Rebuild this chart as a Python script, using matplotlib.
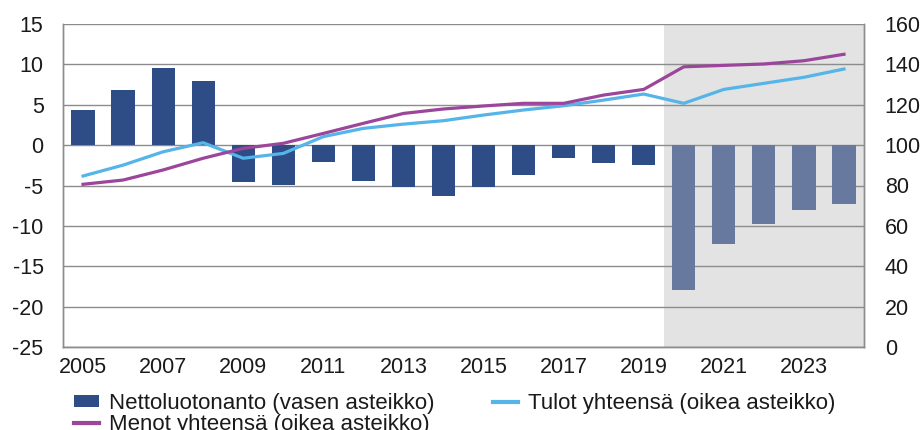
import matplotlib
matplotlib.use("Agg")
import matplotlib.pyplot as plt
import numpy as np
from matplotlib.patches import Patch
from matplotlib.lines import Line2D

years = list(range(2005, 2025))
netto = [4.4, 6.8, 9.5, 8.0, -4.6, -4.9, -2.1, -4.5, -5.2, -6.3, -5.2, -3.7, -1.6, -2.2, -2.4,
         -18.0, -12.3, -9.8, -8.0, -7.3]
tulot = [84.7, 90.1, 96.7, 101.2, 93.5, 95.9, 104.2, 108.3, 110.4, 112.1, 114.9, 117.4, 119.5,
         122.3, 125.3, 120.7, 127.6, 130.6, 133.6, 137.7]
menot = [80.6, 82.7, 87.7, 93.5, 98.4, 100.9, 105.8, 110.8, 115.7, 117.9, 119.4, 120.7, 120.7,
         124.8, 127.6, 138.8, 139.5, 140.2, 141.8, 145.0]
forecast_start = 2020
xtick_labels = [str(y) for y in range(2005, 2024, 2)]
left_ticks = [-25, -20, -15, -10, -5, 0, 5, 10, 15]
right_ticks = [0, 20, 40, 60, 80, 100, 120, 140, 160]
labels = ["Nettoluotonanto (vasen asteikko)", "Menot yhteensä (oikea asteikko)",
          "Tulot yhteensä (oikea asteikko)"]

plt.rcParams['font.family'] = ['Liberation Sans', 'DejaVu Sans']
plt.rcParams['axes.unicode_minus'] = False

c_bar = "#2E4C86"
c_bar_f = "#6879A0"
c_tulot = "#55B4E8"
c_menot = "#9B469B"
c_grid = "#8C8C8C"
c_text = "#1A1A1A"

fig = plt.figure(figsize=(9.24, 4.30), dpi=100)
ax = fig.add_axes([63/924, 1-347/430, (864-63)/924, (347-24)/430])
ax2 = ax.twinx()

x = np.arange(len(years))
colors = [c_bar if y < forecast_start else c_bar_f for y in years]
fi = years.index(forecast_start)
ax.axvspan(fi - 0.5, len(years) - 0.5, color="#E3E3E3", zorder=0, lw=0)
ax.bar(x, netto, width=0.58, color=colors, zorder=3)
ax.set_ylim(-25, 15)
ax.set_yticks(left_ticks)
ax.set_xlim(-0.5, len(years) - 0.5)
ax.set_xticks(x[::2])
ax.set_xticklabels(xtick_labels)
for yv in left_ticks:
    ax.axhline(yv, color=c_grid, lw=1.0, zorder=1)

ax2.plot(x, tulot, color=c_tulot, lw=2.3, zorder=4)
ax2.plot(x, menot, color=c_menot, lw=2.3, zorder=4)
ax2.set_ylim(0, 160)
ax2.set_yticks(right_ticks)

for a in (ax, ax2):
    for s in a.spines.values():
        s.set_color(c_grid)
        s.set_linewidth(1.0)
    a.spines['top'].set_visible(False)
    a.tick_params(length=0, labelsize=15.5, colors=c_text)
ax.tick_params(axis='y', pad=14)
ax2.tick_params(axis='y', pad=15)
ax.tick_params(axis='x', pad=7, labelsize=15.5)

handles = [Patch(facecolor=c_bar, edgecolor='none'),
           Line2D([0], [0], color=c_menot, lw=3),
           Line2D([0], [0], color=c_tulot, lw=3)]
leg = fig.legend(handles, labels, ncol=2, loc='upper left', bbox_to_anchor=(0.068, 0.112),
                 frameon=False, fontsize=16, handlelength=1.15, handleheight=0.45,
                 handletextpad=0.45, columnspacing=2.6, labelspacing=0.0, borderpad=0)
for t in leg.get_texts():
    t.set_color(c_text)

fig.savefig("out.png", dpi=100)
